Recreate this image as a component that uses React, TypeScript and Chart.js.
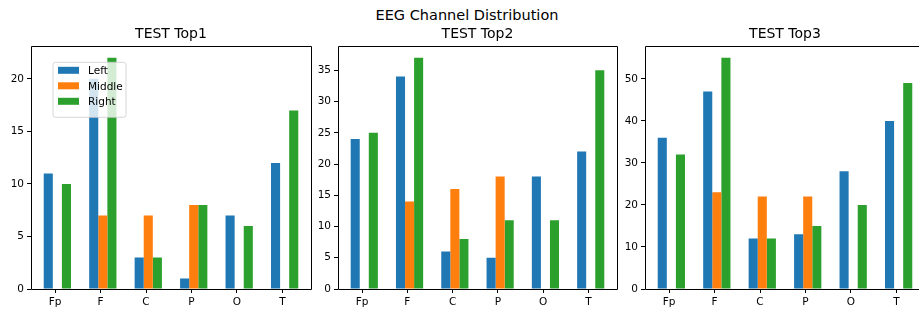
import React, { useEffect, useRef } from 'react';
import { Chart, registerables } from 'chart.js';

Chart.register(...registerables);

// ---------- data ----------
const categories = ['Fp', 'F', 'C', 'P', 'O', 'T'];
const seriesNames = ['Left', 'Middle', 'Right'];
const seriesColors = ['#1f77b4', '#ff7f0e', '#2ca02c'];

const top1Left = [11, 20, 3, 1, 7, 12];
const top1Middle = [0, 7, 7, 8, 0, 0];
const top1Right = [10, 22, 3, 8, 6, 17];

const top2Left = [24, 34, 6, 5, 18, 22];
const top2Middle = [0, 14, 16, 18, 0, 0];
const top2Right = [25, 37, 8, 11, 11, 35];

const top3Left = [36, 47, 12, 13, 28, 40];
const top3Middle = [0, 23, 22, 22, 0, 0];
const top3Right = [32, 55, 12, 15, 20, 49];

const panelTitles = ['TEST Top1', 'TEST Top2', 'TEST Top3'];
const yTickSteps = [5, 5, 10];
const figureTitle = 'EEG Channel Distribution';

// ---------- layout ----------
const AXES_TOP = 45;
const AXES_BOTTOM = 289;
const Y_AXIS_W = 32;
const X_AXIS_H = 23;
const PAD_TOP = 8;
const PAD_RIGHT = 6;
const FONT = '"DejaVu Sans", Verdana, sans-serif';

const boxPlugin = {
  id: 'axesBox',
  afterDraw(chart: any) {
    const { ctx, chartArea: a } = chart;
    ctx.save();
    ctx.strokeStyle = '#000';
    ctx.lineWidth = 1;
    const l = Math.round(a.left) + 0.5;
    const r = Math.round(a.right) + 0.5;
    const t = Math.round(a.top) + 0.5;
    const b = Math.round(a.bottom) + 0.5;
    ctx.beginPath();
    ctx.moveTo(l, t);
    ctx.lineTo(r, t);
    ctx.lineTo(r, b);
    ctx.lineTo(l, b);
    ctx.closePath();
    ctx.stroke();
    ctx.restore();
  },
};

const legendPlugin = {
  id: 'innerLegend',
  afterDatasetsDraw(chart: any) {
    const { ctx, chartArea: a } = chart;
    const x0 = a.left + 22;
    const y0 = a.top + 16;
    const w = 73;
    const h = 55;
    const r = 2.5;
    ctx.save();
    ctx.beginPath();
    ctx.moveTo(x0 + r, y0);
    ctx.lineTo(x0 + w - r, y0);
    ctx.arcTo(x0 + w, y0, x0 + w, y0 + r, r);
    ctx.lineTo(x0 + w, y0 + h - r);
    ctx.arcTo(x0 + w, y0 + h, x0 + w - r, y0 + h, r);
    ctx.lineTo(x0 + r, y0 + h);
    ctx.arcTo(x0, y0 + h, x0, y0 + h - r, r);
    ctx.lineTo(x0, y0 + r);
    ctx.arcTo(x0, y0, x0 + r, y0, r);
    ctx.closePath();
    ctx.globalAlpha = 0.8;
    ctx.fillStyle = '#fff';
    ctx.fill();
    ctx.strokeStyle = '#cccccc';
    ctx.lineWidth = 1;
    ctx.stroke();
    ctx.globalAlpha = 1;
    ctx.font = `10.5px ${FONT}`;
    ctx.textBaseline = 'alphabetic';
    ctx.textAlign = 'left';
    chart.data.datasets.forEach((ds: any, k: number) => {
      const cy = a.top + 24 + 15.5 * k;
      ctx.fillStyle = ds.backgroundColor;
      ctx.fillRect(a.left + 27, cy - 3.5, 21, 7);
      ctx.fillStyle = '#000';
      ctx.fillText(ds.label, a.left + 57, cy + 3.8);
    });
    ctx.restore();
  },
};

type PanelProps = {
  left: number;
  width: number;
  series: number[][];
  step: number;
  title: string;
  legend: boolean;
};

function Panel({ left, width, series, step, title, legend }: PanelProps) {
  const ref = useRef<HTMLCanvasElement | null>(null);
  const cw = Y_AXIS_W + width + PAD_RIGHT;
  const ch = PAD_TOP + (AXES_BOTTOM - AXES_TOP) + X_AXIS_H;

  useEffect(() => {
    if (!ref.current) return;
    const maxVal = Math.max(...series.flat());
    const tickFont = { family: FONT, size: 10.5 };
    const gridOpts = {
      display: true,
      drawOnChartArea: false,
      drawTicks: true,
      tickLength: 4,
      color: '#000',
      lineWidth: 1,
      offset: false,
    };
    const chart = new Chart(ref.current, {
      type: 'bar',
      data: {
        datasets: series.map((vals, k) => ({
          label: seriesNames[k],
          data: vals.map((v, i) => ({ x: i, y: v })),
          backgroundColor: seriesColors[k],
          borderWidth: 0,
          inflateAmount: 0,
          categoryPercentage: 0.6,
          barPercentage: 1,
        })),
      },
      options: {
        animation: false,
        responsive: false,
        maintainAspectRatio: false,
        devicePixelRatio: 1,
        layout: { padding: { top: PAD_TOP, right: PAD_RIGHT, left: 0, bottom: 0 } },
        plugins: {
          legend: { display: false },
          tooltip: { enabled: false },
          title: { display: false },
        },
        scales: {
          x: {
            type: 'linear',
            offset: false,
            min: -0.58,
            max: categories.length - 1 + 0.58,
            afterBuildTicks: (s: any) => {
              s.ticks = categories.map((_, i) => ({ value: i - 0.05 }));
            },
            afterFit: (s: any) => {
              s.height = X_AXIS_H;
            },
            ticks: {
              callback: (v: any) => categories[Math.round(Number(v))],
              font: tickFont,
              color: '#000',
              padding: 3,
              autoSkip: false,
              maxRotation: 0,
            },
            grid: gridOpts,
            border: { display: false },
          },
          y: {
            min: 0,
            max: maxVal * 1.05,
            afterFit: (s: any) => {
              s.width = Y_AXIS_W;
            },
            ticks: {
              stepSize: step,
              includeBounds: false,
              font: tickFont,
              color: '#000',
              padding: 3,
            },
            grid: gridOpts,
            border: { display: false },
          },
        },
      } as any,
      plugins: legend ? [boxPlugin, legendPlugin] : [boxPlugin],
    });
    return () => chart.destroy();
  }, []);

  return (
    <>
      <canvas
        ref={ref}
        width={cw}
        height={ch}
        style={{
          position: 'absolute',
          left: left - Y_AXIS_W,
          top: AXES_TOP - PAD_TOP,
          width: cw,
          height: ch,
        }}
      />
      <div
        style={{
          position: 'absolute',
          left: left + width / 2 - 150,
          width: 300,
          top: 37.5 - 11.85,
          textAlign: 'center',
          font: `14px ${FONT}`,
          lineHeight: '14px',
          color: '#000',
          whiteSpace: 'nowrap',
        }}
      >
        {title}
      </div>
    </>
  );
}

export default function App() {
  const panels = [
    { left: 31, width: 280, series: [top1Left, top1Middle, top1Right] },
    { left: 338, width: 279, series: [top2Left, top2Middle, top2Right] },
    { left: 645, width: 280, series: [top3Left, top3Middle, top3Right] },
  ];
  return (
    <div
      style={{
        position: 'fixed',
        left: 0,
        top: 0,
        width: 919,
        height: 312,
        overflow: 'hidden',
        background: '#fff',
      }}
    >
      <div
        style={{
          position: 'absolute',
          left: 467 - 200,
          width: 400,
          top: 20 - 12.27,
          textAlign: 'center',
          font: `14.5px ${FONT}`,
          lineHeight: '14.5px',
          color: '#000',
          whiteSpace: 'nowrap',
        }}
      >
        {figureTitle}
      </div>
      {panels.map((p, i) => (
        <Panel
          key={i}
          left={p.left}
          width={p.width}
          series={p.series}
          step={yTickSteps[i]}
          title={panelTitles[i]}
          legend={i === 0}
        />
      ))}
    </div>
  );
}
